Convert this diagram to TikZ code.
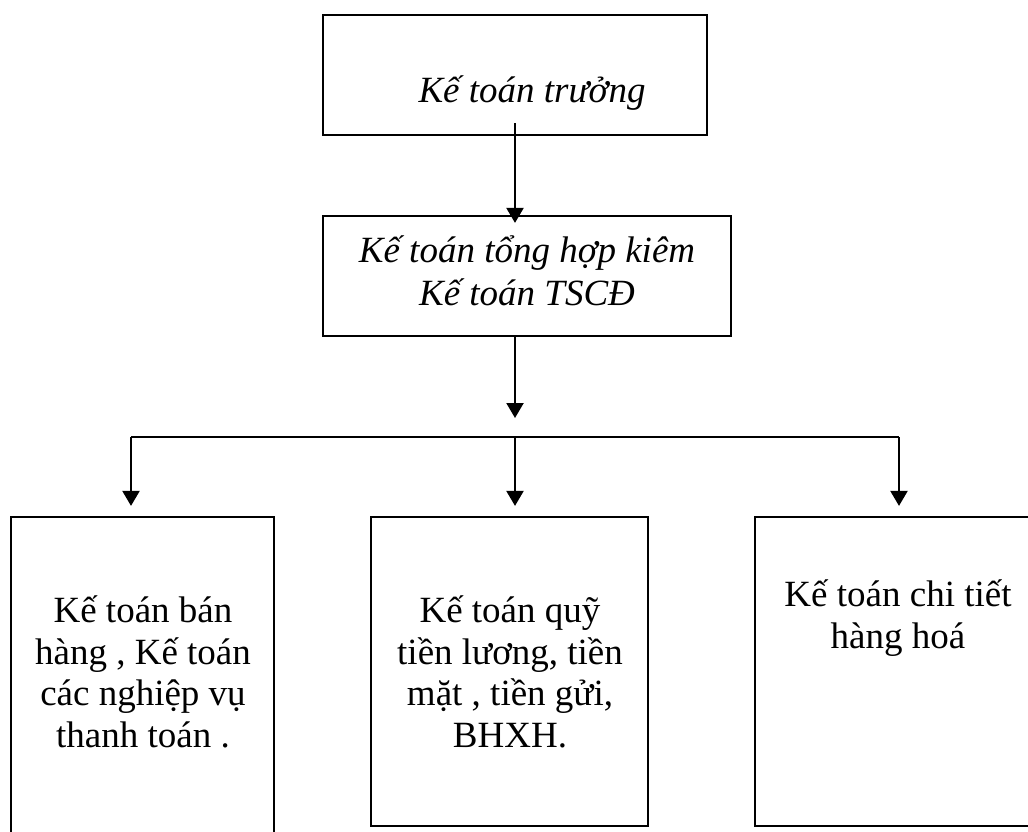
\documentclass[tikz,border=0pt]{standalone}
\usepackage{fontspec}
\setmainfont{Liberation Serif}
\usetikzlibrary{arrows.meta,calc}

\begin{document}
\begin{tikzpicture}[x=1pt,y=-1pt,
  box/.style={draw,line width=2.2pt,rectangle,inner sep=0pt},
  lbl/.style={align=center,inner sep=0pt,anchor=base},
  itl/.style={lbl,font=\fontsize{37}{43}\selectfont\itshape},
  upr/.style={lbl,font=\fontsize{37}{41.5}\selectfont},
  link/.style={line width=2.2pt},
  flow/.style={link,-{Triangle[width=17pt,length=15pt]}}]
\useasboundingbox (0,0) rectangle (1028,832);
\clip (0,0) rectangle (1028,832);

% boxes
\node[box,minimum width=384pt,minimum height=120pt] (chief) at (515,75) {};
\node[box,minimum width=408pt,minimum height=120pt] (general) at (527,276) {};
\node[box,minimum width=263pt,minimum height=333pt] (sales) at (142.5,683.5) {};
\node[box,minimum width=277pt,minimum height=309pt] (cash) at (509.5,671.5) {};
\node[box,minimum width=286pt,minimum height=309pt] (goods) at (898,671.5) {};

% labels (base anchor sits on the last line)
\node[itl] (tchief) at (532,103) {Kế toán trưởng};
\node[itl] (tgeneral) at (527,305) {Kế toán tổng hợp kiêm\\Kế toán TSCĐ};
\node[upr] (tsales) at (143,747) {Kế toán bán\\hàng , Kế toán\\các nghiệp vụ\\thanh toán .};
\node[upr] (tcash) at (510,747) {Kế toán quỹ\\tiền lương, tiền\\mặt , tiền gửi,\\BHXH.};
\node[upr] (tgoods) at (898,648) {Kế toán chi tiết\\hàng hoá};

% connectors
\coordinate (busL) at (131,437);
\coordinate (busM) at (515,437);
\coordinate (busR) at (899,437);
\coordinate (midTip) at (515,418);

\draw[flow] ($(chief.south)+(0,-13)$) -- ($(chief.south |- general.north)+(0,8)$);
\draw[flow] (chief.south |- general.south) -- (midTip);
\draw[link] (busL) -- (busR);
\draw[flow] (busL) -- ($(busL |- sales.north)+(0,-10)$);
\draw[flow] (busM) -- ($(busM |- cash.north)+(0,-10)$);
\draw[flow] (busR) -- ($(busR |- goods.north)+(0,-10)$);
\end{tikzpicture}
\end{document}
